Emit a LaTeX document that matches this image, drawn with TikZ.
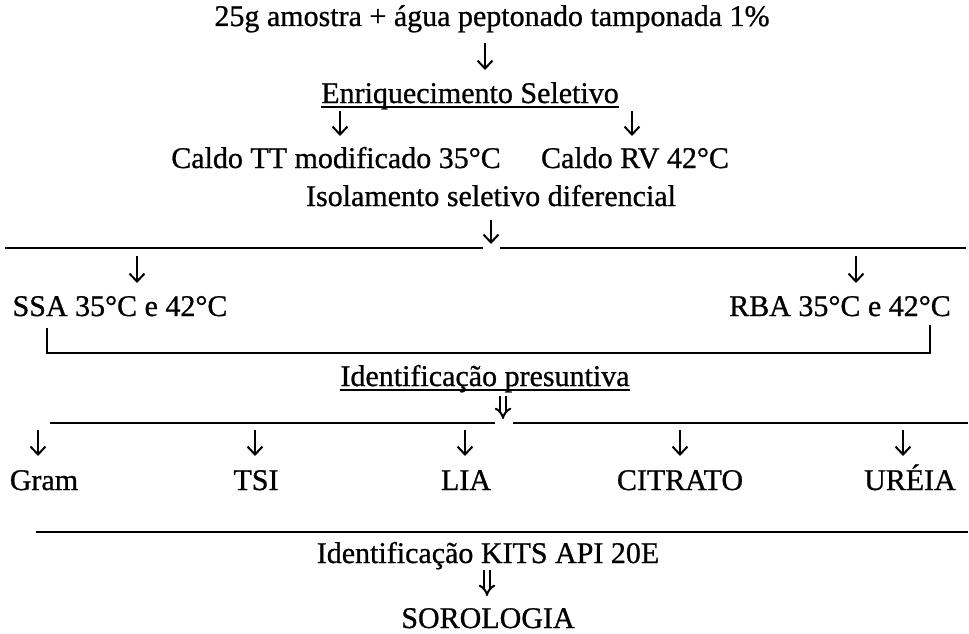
\documentclass[tikz,border=0pt]{standalone}
\usepackage{fontspec}
\setmainfont{Liberation Serif}[BoldFont=Liberation Serif,BoldFeatures={FakeBold=0.8}]
\usetikzlibrary{arrows.meta}
\begin{document}
\begin{tikzpicture}[x=1pt,y=-1pt,
  lbl/.style={anchor=base,inner sep=0pt,font=\fontsize{30}{36}\selectfont\bfseries},
  arr/.style={line width=2pt,-{Straight Barb[length=8pt,width=15pt,line width=2pt]}},
  darr/.style={double,double distance=3.5pt,line width=2pt,-{Implies[length=10pt,width=17pt]}},
  rule/.style={line width=2pt},
  uline/.style={line width=1.6pt}]
\useasboundingbox (0,0) rectangle (969,634);
% texts
\node[lbl] (t1) at (492,26) {25g amostra + água peptonado tamponada 1\%};
\node[lbl] (enr) at (470,103) {Enriquecimento Seletivo};
\node[lbl] (tt) at (336,168) {Caldo TT modificado 35°C};
\node[lbl] (rv) at (635,168) {Caldo RV 42°C};
\node[lbl] (iso) at (491,206) {Isolamento seletivo diferencial};
\node[lbl] (ssa) at (120,316) {SSA 35°C e 42°C};
\node[lbl] (rba) at (840,316) {RBA 35°C e 42°C};
\node[lbl] (idp) at (485,386) {Identificação presuntiva};
\node[lbl] (gram) at (44,490) {Gram};
\node[lbl] (tsi) at (256,490) {TSI};
\node[lbl] (lia) at (466,490) {LIA};
\node[lbl] (cit) at (680,490) {CITRATO};
\node[lbl] (ure) at (910,490) {URÉIA};
\node[lbl] (kit) at (488,563) {Identificação KITS API 20E};
\node[lbl] (sor) at (488,628) {SOROLOGIA};
\draw[uline] ([yshift=-4pt]enr.base west) -- ([yshift=-4pt]enr.base east);
\draw[uline] ([yshift=-4pt]idp.base west) -- ([yshift=-4pt]idp.base east);
% arrow end points
\coordinate (a1s) at (485,43); \coordinate (a1e) at (485,70);
\coordinate (a2ls) at (340,111); \coordinate (a2le) at (340,136);
\coordinate (a2rs) at (632,111); \coordinate (a2re) at (632,136);
\coordinate (a3s) at (491,220); \coordinate (a3e) at (491,244);
\coordinate (a4ls) at (137,256); \coordinate (a4le) at (137,283);
\coordinate (a4rs) at (856,256); \coordinate (a4re) at (856,283);
\coordinate (d1s) at (503,396); \coordinate (d1e) at (503,419);
\coordinate (d2s) at (487,570); \coordinate (d2e) at (487,596);
\foreach \n/\x in {g/38,t/255,l/465,c/680,u/903}{
  \coordinate (a5\n s) at (\x,430); \coordinate (a5\n e) at (\x,456);
}
% lines
\coordinate (h1a) at (5,248); \coordinate (h1b) at (483,248);
\coordinate (h1c) at (500,248); \coordinate (h1d) at (966,248);
\coordinate (b1) at (47,328); \coordinate (b2) at (47,353);
\coordinate (b3) at (930,353); \coordinate (b4) at (930,325);
\coordinate (h2a) at (50,423); \coordinate (h2b) at (495,423);
\coordinate (h2c) at (513,423); \coordinate (h2d) at (968,423);
\coordinate (h3a) at (36,532); \coordinate (h3b) at (968,532);
\draw[rule] (h1a) -- (h1b);
\draw[rule] (h1c) -- (h1d);
\draw[rule] (b1) -- (b2) -- (b3) -- (b4);
\draw[rule] (h2a) -- (h2b);
\draw[rule] (h2c) -- (h2d);
\draw[rule] (h3a) -- (h3b);
% arrows
\draw[arr] (a1s) -- (a1e);
\draw[arr] (a2ls) -- (a2le);
\draw[arr] (a2rs) -- (a2re);
\draw[arr] (a3s) -- (a3e);
\draw[arr] (a4ls) -- (a4le);
\draw[arr] (a4rs) -- (a4re);
\foreach \n in {g,t,l,c,u}{\draw[arr] (a5\n s) -- (a5\n e);}
\draw[darr] (d1s) -- (d1e);
\draw[darr] (d2s) -- (d2e);
\end{tikzpicture}
\end{document}
